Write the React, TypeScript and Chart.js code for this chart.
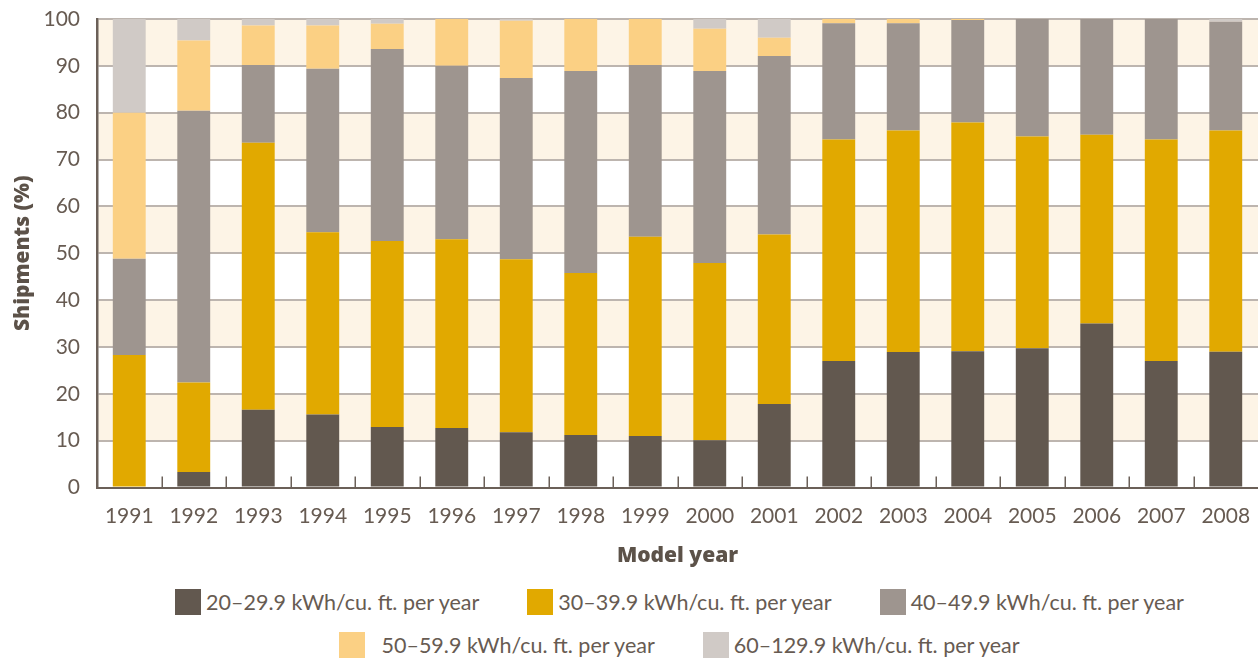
import { useEffect, useRef } from "react";
import { Chart, registerables } from "chart.js";

Chart.register(...registerables);

// Model years on the category axis
const years = [
  "1991", "1992", "1993", "1994", "1995", "1996", "1997", "1998", "1999",
  "2000", "2001", "2002", "2003", "2004", "2005", "2006", "2007", "2008",
];

// Share of shipments (%) by energy-use class
const kwh20to29 = [0, 3.3, 16.6, 15.6, 12.9, 12.7, 11.8, 11.2, 11.0, 10.1, 17.8, 27.0, 28.9, 29.1, 29.7, 35.0, 27.0, 29.0];
const kwh30to39 = [28.3, 19.1, 57.0, 38.9, 39.7, 40.3, 36.9, 34.6, 42.5, 37.8, 36.2, 47.3, 47.3, 48.8, 45.2, 40.3, 47.3, 47.2];
const kwh40to49 = [20.5, 58.0, 16.6, 34.9, 41.0, 37.0, 38.7, 43.1, 36.7, 41.0, 38.1, 24.8, 22.9, 21.9, 25.1, 24.7, 25.7, 23.2];
const kwh50to59 = [31.2, 15.0, 8.4, 9.2, 5.4, 10.0, 12.2, 11.1, 9.8, 9.0, 3.9, 0.9, 0.9, 0.2, 0, 0, 0, 0];
const kwh60to129 = [20.0, 4.6, 1.4, 1.4, 1.0, 0, 0.4, 0, 0, 2.1, 4.0, 0, 0, 0, 0, 0, 0, 0.6];

const seriesLabels = [
  "20–29.9 kWh/cu. ft. per year",
  "30–39.9 kWh/cu. ft. per year",
  "40–49.9 kWh/cu. ft. per year",
  "  50–59.9 kWh/cu. ft. per year",
  "60–129.9 kWh/cu. ft. per year",
];
const seriesColors = ["#62584f", "#e1a900", "#9e958f", "#fbd084", "#d0cac6"];
const seriesValues = [kwh20to29, kwh30to39, kwh40to49, kwh50to59, kwh60to129];

const yTicks = [0, 10, 20, 30, 40, 50, 60, 70, 80, 90, 100];

const TEXT = "#675b52";
const TITLE = "#5c5249";
const AXIS = "#6b6058";
const GRID = "#bdb5af";
const BAND = "#fdf4e6";
const FONT = "Lato, 'Open Sans', sans-serif";
const TITLE_FONT = "'Open Sans', Lato, sans-serif";

const CANVAS_W = 1258;
const CANVAS_H = 575;

// Cream stripes behind every other 10% band
const bandPlugin = {
  id: "stripes",
  beforeDraw(chart: any) {
    const { ctx, chartArea, scales } = chart;
    const y = scales.y;
    ctx.save();
    ctx.fillStyle = BAND;
    for (let i = 1; i < yTicks.length - 1; i += 2) {
      const bottom = y.getPixelForValue(yTicks[i]);
      const top = y.getPixelForValue(yTicks[i + 1]);
      ctx.fillRect(chartArea.left, top, chartArea.right - chartArea.left, bottom - top);
    }
    ctx.restore();
  },
};

// Short inward tick marks between categories on the x axis
const dividerPlugin = {
  id: "dividers",
  afterDatasetsDraw(chart: any) {
    const { ctx, chartArea, scales } = chart;
    const x = scales.x;
    ctx.save();
    ctx.strokeStyle = AXIS;
    ctx.lineWidth = 1.5;
    for (let i = 0; i < years.length - 1; i++) {
      const px = Math.round((x.getPixelForValue(i) + x.getPixelForValue(i + 1)) / 2) + 0.25;
      ctx.beginPath();
      ctx.moveTo(px, chartArea.bottom);
      ctx.lineTo(px, chartArea.bottom - 11);
      ctx.stroke();
    }
    ctx.restore();
  },
};

export default function App() {
  const canvasRef = useRef<HTMLCanvasElement | null>(null);

  useEffect(() => {
    if (!canvasRef.current) return;
    const chart = new Chart(canvasRef.current, {
      type: "bar",
      data: {
        labels: years,
        datasets: seriesValues.map((values, i) => ({
          label: seriesLabels[i].trim(),
          data: values,
          backgroundColor: seriesColors[i],
          borderWidth: 0,
          barPercentage: 0.51,
          categoryPercentage: 1,
        })),
      },
      options: {
        responsive: false,
        animation: false,
        layout: { padding: { top: 19, right: 0, left: 0, bottom: 0 } },
        plugins: {
          legend: { display: false },
          tooltip: { enabled: false },
        },
        scales: {
          x: {
            stacked: true,
            grid: { display: false },
            border: { display: true, color: AXIS, width: 2 },
            ticks: {
              color: TEXT,
              font: { family: FONT, size: 21 },
              padding: 8,
              maxRotation: 0,
            },
            title: {
              display: true,
              text: "Model year",
              color: TITLE,
              font: { family: TITLE_FONT, size: 21, weight: 800 },
              padding: { top: 0, bottom: 6 },
            },
            afterFit(scale: any) {
              scale.height = 87.5;
              scale.paddingLeft = 0;
              scale.paddingRight = 0;
            },
          },
          y: {
            stacked: true,
            min: 0,
            max: 100,
            afterBuildTicks(scale: any) {
              scale.ticks = yTicks.map((v) => ({ value: v }));
            },
            grid: { color: GRID, lineWidth: 2, drawTicks: false },
            border: { display: true, color: AXIS, width: 2.5 },
            ticks: {
              color: TEXT,
              font: { family: FONT, size: 21 },
              padding: 17,
            },
            title: {
              display: true,
              text: "Shipments (%)",
              color: TITLE,
              font: { family: TITLE_FONT, size: 21, weight: 800 },
              padding: { top: 10, bottom: 0 },
            },
            afterFit(scale: any) {
              scale.width = 97;
              scale.paddingTop = 0;
              scale.paddingBottom = 0;
            },
          },
        },
      },
      plugins: [bandPlugin, dividerPlugin],
    });
    return () => chart.destroy();
  }, []);

  const rows = [
    [0, 1, 2],
    [3, 4],
  ];

  return (
    <div
      style={{
        position: "absolute",
        left: 0,
        top: 0,
        width: CANVAS_W,
        height: 658,
        background: "#fff",
        overflow: "hidden",
      }}
    >
      <canvas ref={canvasRef} width={CANVAS_W} height={CANVAS_H} style={{ display: "block" }} />
      {rows.map((row, r) => (
        <div
          key={r}
          style={{
            position: "absolute",
            left: 99,
            width: CANVAS_W - 97,
            top: r === 0 ? 589 : 632,
            height: 26,
            display: "flex",
            justifyContent: "center",
            alignItems: "center",
            gap: 48,
          }}
        >
          {row.map((i) => (
            <div key={i} style={{ display: "flex", alignItems: "center" }}>
              <span
                style={{
                  width: 26,
                  height: 26,
                  background: seriesColors[i],
                  display: "inline-block",
                  marginRight: 5,
                }}
              />
              <span
                style={{
                  fontFamily: FONT,
                  fontSize: 21.5,
                  color: TEXT,
                  whiteSpace: "pre",
                  lineHeight: "26px",
                }}
              >
                {seriesLabels[i]}
              </span>
            </div>
          ))}
        </div>
      ))}
    </div>
  );
}
